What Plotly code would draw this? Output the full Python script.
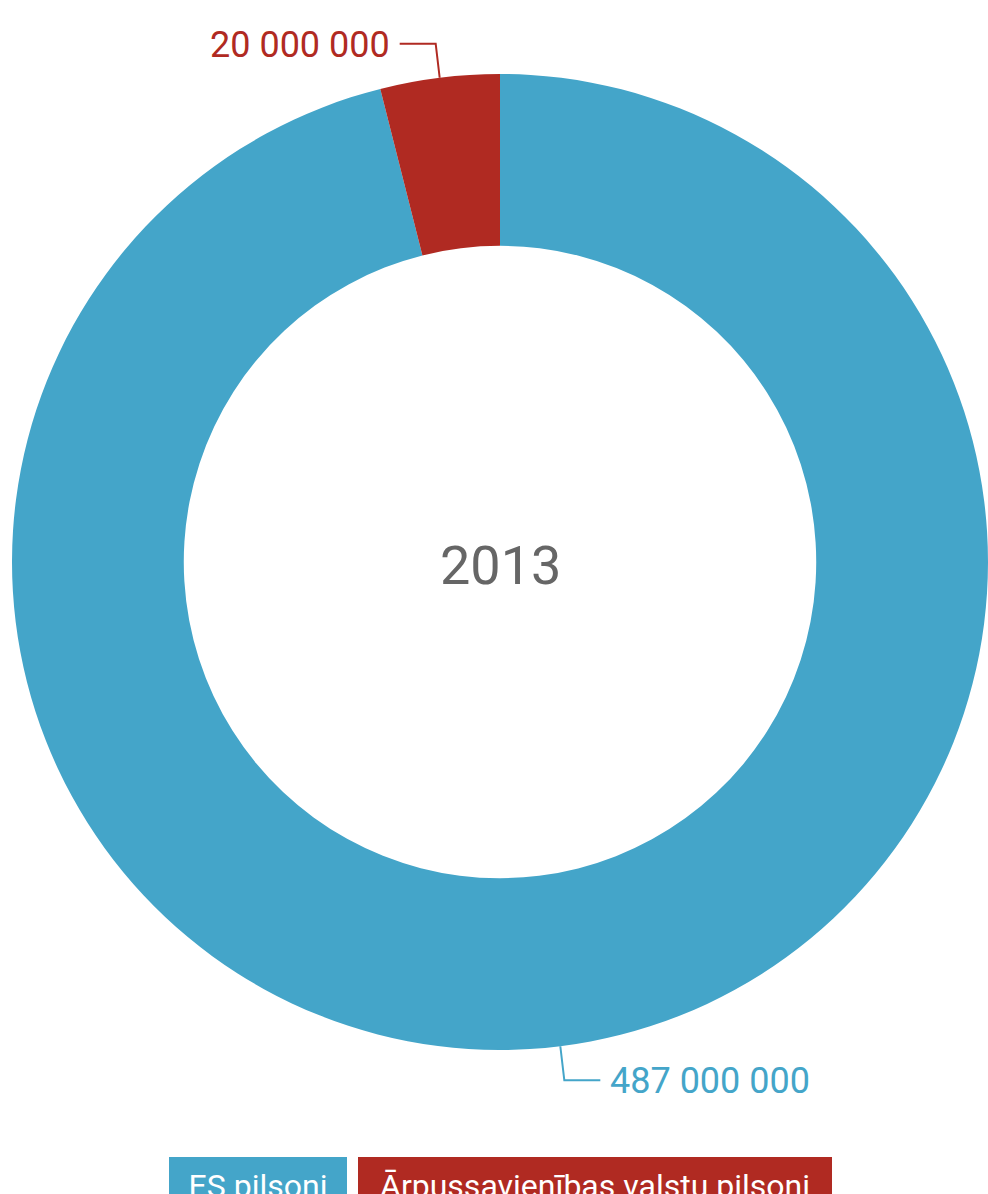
import math
import plotly.graph_objects as go

categories = ["ES pilsoni", "Ārpussavienības valstu pilsoni"]
values = [487000000, 20000000]
value_labels = ["487 000 000", "20 000 000"]
colors = ["#44a5c9", "#b02a22"]
center_text = "2013"

W, H = 988, 1194
FONT = "Roboto, sans-serif"

# pie geometry in pixels
cx, cy, R = 500, 562, 488
dom_x = [(cx - R) / W, (cx + R) / W]
dom_y = [1 - (cy + R) / H, 1 - (cy - R) / H]

fig = go.Figure(go.Pie(
    labels=categories, values=values, hole=0.648, sort=False,
    direction="clockwise", rotation=0, textinfo="none",
    marker=dict(colors=colors, line=dict(width=0)),
    domain=dict(x=dom_x, y=dom_y), showlegend=False, hoverinfo="label+value"))


def px(x):
    return x / W


def py(y):
    return 1 - y / H


annotations = [dict(text=center_text, x=px(cx), y=py(565), xref="paper", yref="paper",
                    showarrow=False, yanchor="middle",
                    font=dict(family=FONT, size=54, color="#666666"))]
shapes = []

total = sum(values)
start = 0.0
for i, v in enumerate(values):
    frac = v / total
    mid = (start + frac / 2) * 2 * math.pi
    start += frac
    sx = cx + R * math.sin(mid)
    sy = cy - R * math.cos(mid)
    up = math.cos(mid) > 0
    ky = sy + (-34 if up else 34)
    right = math.sin(mid) > 0
    kx = sx + (4 if right else -4)
    ex = kx + (36 if right else -36)
    shapes.append(dict(type="path", xref="paper", yref="paper",
                       path=f"M {px(sx)} {py(sy)} L {px(kx)} {py(ky)} L {px(ex)} {py(ky)}",
                       line=dict(color=colors[i], width=2)))
    annotations.append(dict(text=value_labels[i], x=px(ex + (8 if right else -8)), y=py(ky + 1),
                            xref="paper", yref="paper", showarrow=False,
                            xanchor="left" if right else "right", yanchor="middle",
                            font=dict(family=FONT, size=36, color=colors[i])))

# legend as coloured boxes
legend_x = [169, 358]
legend_w = [178, 474]
for i, c in enumerate(categories):
    annotations.append(dict(text=c, x=px(legend_x[i]), y=py(1157), xref="paper", yref="paper",
                            showarrow=False, xanchor="left", yanchor="top",
                            width=legend_w[i] - 20, height=70, align="center", valign="top",
                            bgcolor=colors[i], borderpad=10, borderwidth=0,
                            font=dict(family=FONT, size=32, color="white")))

fig.update_layout(width=W, height=H, margin=dict(l=0, r=0, t=0, b=0),
                  paper_bgcolor="white", plot_bgcolor="white",
                  annotations=annotations, shapes=shapes)

fig.write_html("out.html", config={"displayModeBar": False},
               post_script="document.body.style.margin='0';")
